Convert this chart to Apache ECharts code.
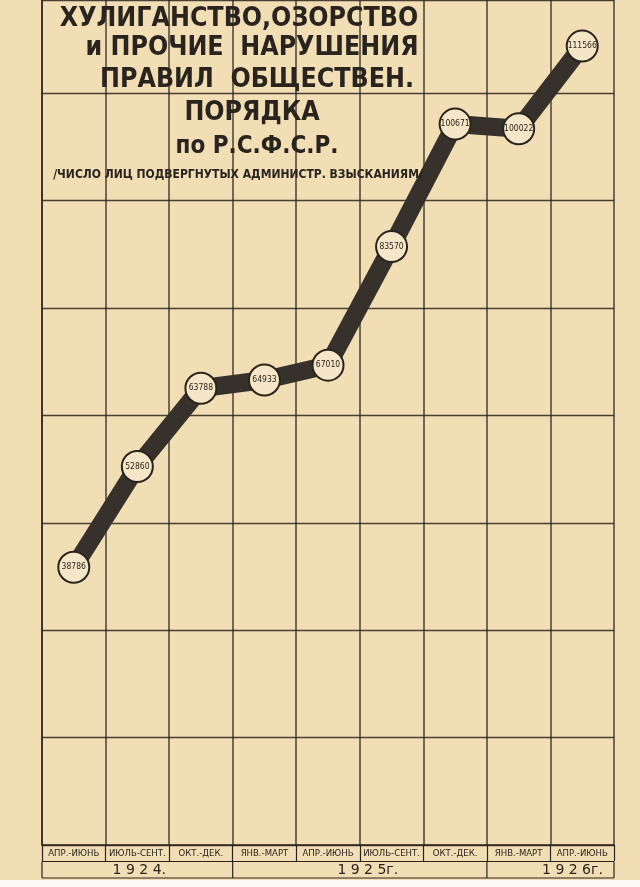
<!DOCTYPE html>
<html>
<head>
<meta charset="utf-8">
<script src="https://cdn.jsdelivr.net/npm/echarts@6/dist/echarts.min.js"></script>
<style>
html,body{margin:0;padding:0;background:#f2e0b8;}
#c{width:640px;height:887px;}
</style>
</head>
<body>
<div id="c"></div>
<script>
// ---- data ----
const categories = ['АПР.-ИЮНЬ', 'ИЮЛЬ-СЕНТ.', 'ОКТ.-ДЕК.', 'ЯНВ.-МАРТ', 'АПР.-ИЮНЬ', 'ИЮЛЬ-СЕНТ.', 'ОКТ.-ДЕК.', 'ЯНВ.-МАРТ', 'АПР.-ИЮНЬ'];
const values = [38786, 52860, 63788, 64933, 67010, 83570, 100671, 100022, 111566];
const years = ['1 9 2 4.', '1 9 2 5г.', '1 9 2 6г.'];
const yearSpans = [3, 4, 2];
const titleLines = ['ХУЛИГАНСТВО,ОЗОРСТВО', 'и ПРОЧИЕ  НАРУШЕНИЯ', 'ПРАВИЛ  ОБЩЕСТВЕН.', 'ПОРЯДКА', 'по Р.С.Ф.С.Р.'];
const subtitle = '/ЧИСЛО ЛИЦ ПОДВЕРГНУТЫХ АДМИНИСТР. ВЗЫСКАНИЯМ/';

const INK = '#2a241f';
const PAPER = '#f1deb4';
const COND = "'DejaVu Sans Condensed','Liberation Sans Narrow','DejaVu Sans',sans-serif";

const chart = echarts.init(document.getElementById('c'), null, {renderer: 'canvas'});
const option = {
  backgroundColor: PAPER,
  animation: false,
  grid: {left: 42, right: 26, top: 0, bottom: 42},
  xAxis: {
    type: 'category',
    data: categories,
    boundaryGap: true,
    axisLine: {show: true, lineStyle: {color: INK, width: 1.5}},
    axisTick: {show: true, length: 16, lineStyle: {color: INK, width: 1.2}},
    axisLabel: {margin: 4, fontSize: 9.5, fontFamily: COND, color: INK, interval: 0},
    splitLine: {show: true, interval: 0, lineStyle: {color: INK, width: 1.5, opacity: 0.85}}
  },
  yAxis: {
    type: 'value',
    min: 0, max: 118000, interval: 15000,
    axisLabel: {show: false},
    axisTick: {show: false},
    axisLine: {show: true, lineStyle: {color: INK, width: 1.5}},
    splitLine: {show: true, lineStyle: {color: INK, width: 1.3, opacity: 0.85}}
  },
  series: [{
    type: 'line',
    data: values,
    symbol: 'circle',
    symbolSize: 31,
    lineStyle: {color: '#37312b', width: 18, join: 'round'},
    itemStyle: {color: '#f4e6c6', borderColor: INK, borderWidth: 2},
    label: {show: true, position: 'inside', fontSize: 8.5, fontFamily: COND, color: INK},
    z: 3
  }]
};
chart.setOption(option);

// positions derived from the chart's own scales
const c0 = chart.convertToPixel({xAxisIndex: 0}, 0);
const c1 = chart.convertToPixel({xAxisIndex: 0}, 1);
const step = c1 - c0;
const bx = i => c0 - step / 2 + i * step;
const y0 = chart.convertToPixel({yAxisIndex: 0}, 0);
const rowH = 16.5;
const g = [];
g.push({type: 'line', shape: {x1: bx(0), y1: y0 + rowH, x2: bx(9), y2: y0 + rowH}, style: {stroke: INK, lineWidth: 1.2}});
g.push({type: 'line', shape: {x1: bx(0), y1: y0 + 2 * rowH, x2: bx(9), y2: y0 + 2 * rowH}, style: {stroke: INK, lineWidth: 1.2}});
let acc = 0;
[0].concat(yearSpans).forEach((s) => {
  acc += s;
  g.push({type: 'line', shape: {x1: bx(acc), y1: y0 + rowH, x2: bx(acc), y2: y0 + 2 * rowH}, style: {stroke: INK, lineWidth: 1.2}});
});
acc = 0;
years.forEach((t, k) => {
  const mid = acc + yearSpans[k] / 2;
  acc += yearSpans[k];
  g.push({type: 'text', x: bx(mid) + (k === 1 ? 8 : k === 2 ? 22 : 2), y: y0 + 1.5 * rowH + 1,
    style: {text: t, font: "14px 'DejaVu Sans',sans-serif", fill: INK, textAlign: 'center', textVerticalAlign: 'middle'}});
});
g.push({type: 'rect', shape: {x: 0, y: y0 + 2 * rowH + 2, width: 640, height: 20}, style: {fill: '#fbfaf6'}});
const tl = [
  {x: 239, y: 19, size: 26.5},
  {x: 252, y: 48, size: 26.5},
  {x: 257, y: 80, size: 26.5},
  {x: 252, y: 113, size: 26.5},
  {x: 257, y: 147, size: 24}
];
titleLines.forEach((t, k) => {
  g.push({type: 'text', x: tl[k].x, y: tl[k].y, z: 10,
    style: {text: t, font: "bold " + tl[k].size + "px " + COND, fill: INK, textAlign: 'center', textVerticalAlign: 'middle'}});
});
g.push({type: 'text', x: 238, y: 175, z: 10,
  style: {text: subtitle, font: "bold 12px " + COND, fill: INK, textAlign: 'center', textVerticalAlign: 'middle'}});
chart.setOption({graphic: g});
</script>
</body>
</html>
